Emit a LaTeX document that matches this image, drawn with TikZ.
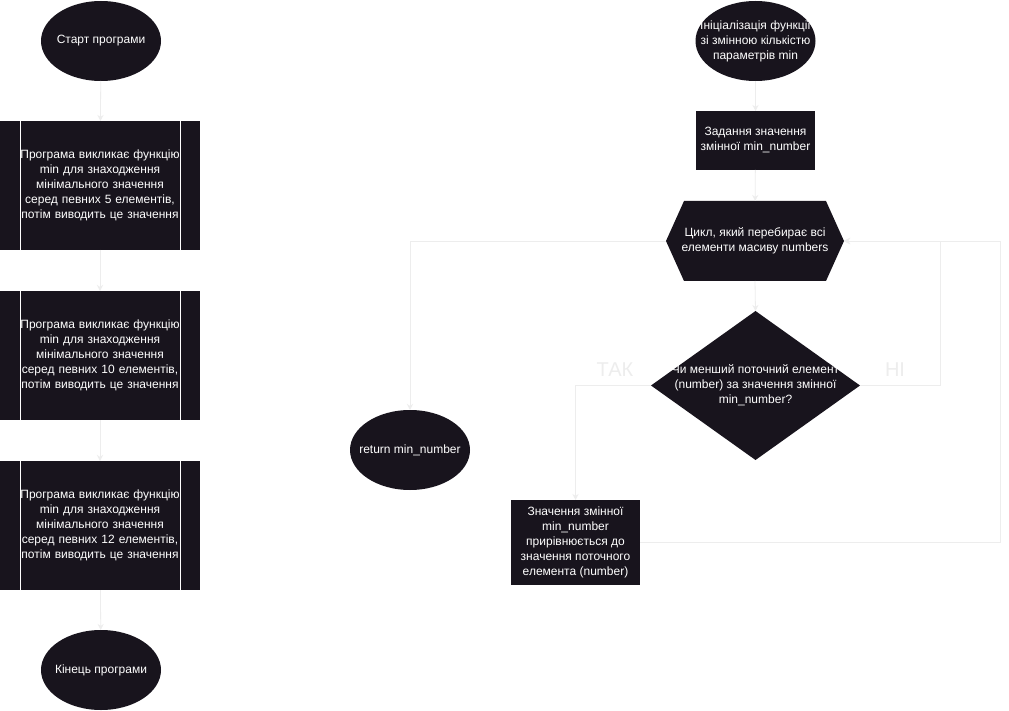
\documentclass[tikz,border=0pt]{standalone}
\usepackage{fontspec}
\setmainfont{Liberation Sans}
\usetikzlibrary{shapes.geometric,arrows.meta,backgrounds}
\definecolor{nodefill}{HTML}{18141D}
\definecolor{linegray}{HTML}{EDEDED}
\begin{document}
\begin{tikzpicture}[x=1pt,y=-1pt,
  every node/.style={inner sep=0pt,outer sep=0pt,text=white,font=\fontsize{12}{15}\selectfont,align=center},
  term/.style={ellipse,fill=nodefill,minimum width=120pt,minimum height=80pt},
  procbox/.style={rectangle,fill=nodefill,minimum width=200pt,minimum height=129pt,text width=162pt},
  plainbox/.style={rectangle,fill=nodefill},
  decision/.style={diamond,fill=nodefill,minimum width=209pt,minimum height=149pt},
  lbl/.style={text=linegray,font=\fontsize{20}{24}\selectfont},
  conn/.style={draw=linegray,line width=0.8pt,-{Stealth[length=6pt,width=6pt]}},
  connplain/.style={draw=linegray,line width=0.8pt}
]
\useasboundingbox (0,0) rectangle (1009,711);
\begin{scope}[on background layer]
\fill[white] (0,0) rectangle (1009,711);
\end{scope}

% left column
\node[term,label=center:{Старт програми}] (start) at (101,41) {};
\node[procbox] (p1) at (100,185.5) {Програма викликає функцію\\min для знаходження\\мінімального значення\\серед певних 5 елементів,\\потім виводить це значення};
\node[procbox] (p2) at (100,355.5) {Програма викликає функцію\\min для знаходження\\мінімального значення\\серед певних 10 елементів,\\потім виводить це значення};
\node[procbox] (p3) at (100,525.5) {Програма викликає функцію\\min для знаходження\\мінімального значення\\серед певних 12 елементів,\\потім виводить це значення};
\node[term,label=center:{Кінець програми}] (end) at (101,670) {};
\foreach \b in {p1,p2,p3}{
  \draw[white,line width=0.8pt] ([xshift=20pt]\b.north west) -- ([xshift=20pt]\b.south west);
  \draw[white,line width=0.8pt] ([xshift=-20pt]\b.north east) -- ([xshift=-20pt]\b.south east);
}

% right part
\node[term,label=center:{Ініціалізація функції\\зі змінною кількістю\\параметрів min}] (init) at (755.5,41) {};
\node[plainbox,minimum width=119pt,minimum height=59pt] (set) at (755.5,140.5) {Задання значення\\змінної min\_number};
\node[rectangle,minimum width=178pt,minimum height=80pt] (hex) at (755,241) {Цикл, який перебирає всі\\елементи масиву numbers};
\begin{scope}[on background layer]
\fill[nodefill] ([xshift=18pt]hex.north west) -- ([xshift=-18pt]hex.north east) -- (hex.east)
  -- ([xshift=-18pt]hex.south east) -- ([xshift=18pt]hex.south west) -- (hex.west) -- cycle;
\end{scope}
\node[decision] (dec) at (755.5,385.5) {};
\node (dectext) at (755.5,385.5) {Чи менший поточний елемент\\(number) за значення змінної\\min\_number?};
\node[term,label=center:{return min\_number}] (ret) at (410,450) {};
\node[plainbox,minimum width=129pt,minimum height=85pt] (upd) at (575.5,542.5) {Значення змінної\\min\_number\\прирівнюється до\\значення поточного\\елемента (number)};

\node[lbl] (tak) at (615,370) {ТАК};
\node[lbl] (ni) at (895,370) {НІ};

\coordinate (j1) at (940,241);
\coordinate (j2) at (1000,241);

% connectors
\draw[conn] (start) -- (p1);
\draw[conn] (p1) -- (p2);
\draw[conn] (p2) -- (p3);
\draw[conn] (p3) -- (end);
\draw[conn] (init) -- (set);
\draw[conn] (set) -- (hex);
\draw[conn] (hex.south) -- (dec.north);
\draw[conn] (hex.west) -| (ret.north);
\draw[conn] (dec.west) -| (upd.north);
\draw[conn] (dec.east) -| (j1) -- (hex.east);
\draw[conn] (upd.east) -| (j2) -- (hex.east);
\end{tikzpicture}
\end{document}
